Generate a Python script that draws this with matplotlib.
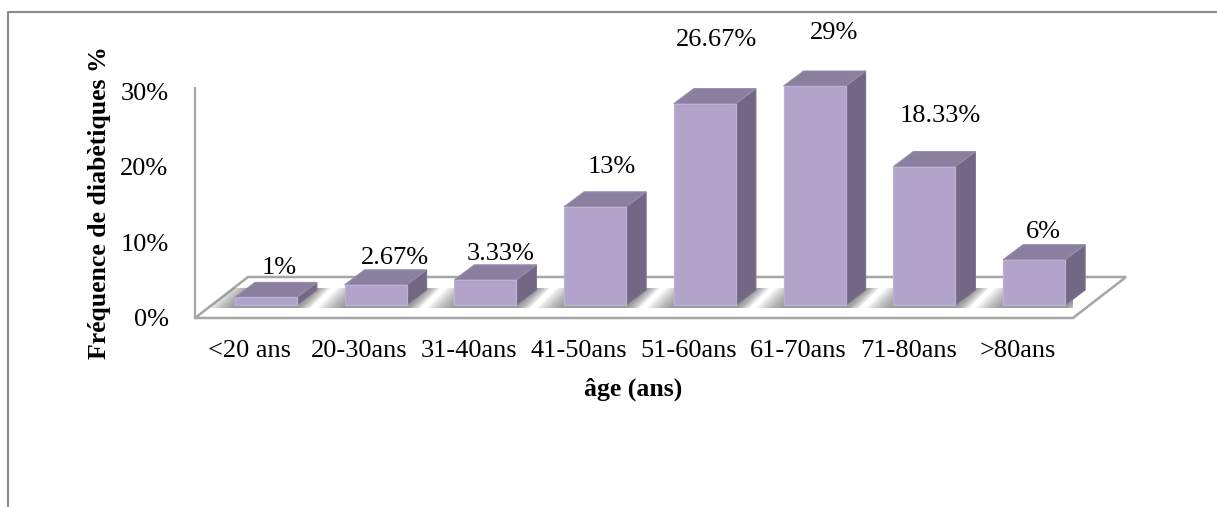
import matplotlib
matplotlib.use("Agg")

import matplotlib.pyplot as plt
from matplotlib.patches import Polygon
from matplotlib.lines import Line2D
from matplotlib.transforms import IdentityTransform

plt.rcParams["font.family"] = ["Liberation Serif", "DejaVu Serif"]

# ── data ─────────────────────────────────────────────────────────────────────
age_groups = ["<20 ans", "20-30ans", "31-40ans", "41-50ans",
              "51-60ans", "61-70ans", "71-80ans", ">80ans"]
freq_pct = [1, 2.67, 3.33, 13, 26.67, 29, 18.33, 6]
y_ticks = [0, 10, 20, 30]

# value label nudges (pixels right / up from the bar's front-top centre)
label_shift_px = [29, 35, 31, 33, 28, 35, 32, 25]
label_rise_px = [42, 40, 39, 53, 77, 66, 64, 41]

# ── fake-3D geometry, in screen pixels ───────────────────────────────────────
W, H = 1217, 507
FLOOR_BACK = (53, 41)     # depth of the floor
BAR_FRONT = (16, 13)      # bars sit part way back on the floor
BAR_BACK = (36, 28)
BAR_W = 0.565

FRONT_C = "#b1a3c9"
SIDE_C = "#726785"
TOP_C = "#8a7f9e"
GRID_C = "#a6a6a6"

fig = plt.figure(figsize=(W / 100, H / 100), dpi=100)
ax = fig.add_axes([195 / W, (H - 318) / H, 878 / W, 230.3 / H])
ax.set_xlim(-0.5, len(age_groups) - 0.5)
ax.set_ylim(0, 30.5)
ax.patch.set_visible(False)
for side in ("top", "right", "bottom"):
    ax.spines[side].set_visible(False)
ax.spines["left"].set_color(GRID_C)
ax.spines["left"].set_linewidth(1.6)


def proj(x, y, off):
    px, py = ax.transData.transform((x, y))
    return (px + off[0], py + off[1])


def face(pts, color, z, **kw):
    p = Polygon(pts, closed=True, facecolor=color, transform=IdentityTransform(),
                zorder=z, clip_on=False, **kw)
    ax.add_patch(p)
    return p


# floor
x_lo, x_hi = -0.5, len(age_groups) - 0.5
floor = face([proj(x_lo, 0, (0, 0)), proj(x_hi, 0, (0, 0)),
              proj(x_hi, 0, FLOOR_BACK), proj(x_lo, 0, FLOOR_BACK)],
             "white", 1, edgecolor=GRID_C, linewidth=1.8)

# soft shadows on the floor
for i, v in enumerate(freq_pct):
    x0, x1 = i - BAR_W / 2, i + BAR_W / 2
    a = proj(x0, 0, BAR_FRONT)
    b = proj(x1, 0, BAR_FRONT)
    c = proj(x1, 0, BAR_BACK)
    d = proj(x0, 0, BAR_BACK)
    for e in range(27, 0, -3):
        sh = face([(a[0] - e, a[1] - 3), (b[0] + e * 0.5, b[1] - 3),
                   (c[0] + e * 0.5, c[1] + 2), (d[0] - e, d[1] + 2)],
                  "#555555", 2, alpha=0.09, linewidth=0)
        sh.set_clip_on(True)
        sh.set_clip_path(floor)

# bars
for i, v in enumerate(freq_pct):
    x0, x1 = i - BAR_W / 2, i + BAR_W / 2
    face([proj(x1, 0, BAR_FRONT), proj(x1, 0, BAR_BACK),
          proj(x1, v, BAR_BACK), proj(x1, v, BAR_FRONT)],
         SIDE_C, 3, edgecolor="#7d7290", linewidth=0.8)
    face([proj(x0, v, BAR_FRONT), proj(x1, v, BAR_FRONT),
          proj(x1, v, BAR_BACK), proj(x0, v, BAR_BACK)],
         TOP_C, 3, edgecolor="#978cab", linewidth=0.8)
    face([proj(x0, 0, BAR_FRONT), proj(x1, 0, BAR_FRONT),
          proj(x1, v, BAR_FRONT), proj(x0, v, BAR_FRONT)],
         FRONT_C, 4, edgecolor="#bdb1d4", linewidth=0.9)

    ax.annotate(f"{v:g}%", xy=(i, v),
                xytext=(label_shift_px[i] * 0.72, label_rise_px[i] * 0.72),
                textcoords="offset points", ha="center", va="center",
                fontsize=19, annotation_clip=False)

# axes text
ax.set_xticks(range(len(age_groups)))
ax.set_xticklabels(age_groups, fontsize=19)
ax.set_yticks(y_ticks)
ax.set_yticklabels([f"{t}%" for t in y_ticks], fontsize=19)
ax.tick_params(axis="x", length=0, pad=16)
ax.tick_params(axis="y", length=0, pad=19)

fig.text(633 / W, 1 - 389 / H, "âge (ans)", ha="center", va="center",
         fontsize=18.5, fontweight="bold")
fig.text(100 / W, 1 - 203 / H, "Fréquence de diabètiques %", ha="center",
         va="center", rotation=90, fontsize=18.5, fontweight="bold")

# chart frame
fig.add_artist(Line2D([8 / W, 8 / W, 1.0], [0.0, 1 - 12 / H, 1 - 12 / H],
                      transform=fig.transFigure, color="#8c8c8c", linewidth=1.5))

fig.savefig("out.png", dpi=100)
